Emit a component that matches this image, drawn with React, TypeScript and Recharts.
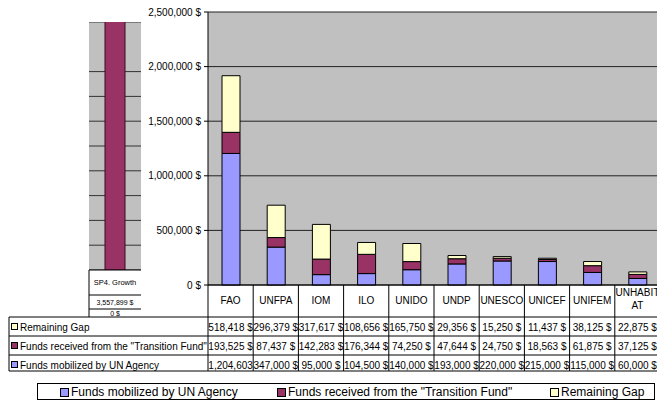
import { BarChart, Bar, XAxis, YAxis, CartesianGrid } from 'recharts';

const CATEGORIES = ['FAO', 'UNFPA', 'IOM', 'ILO', 'UNIDO', 'UNDP', 'UNESCO', 'UNICEF', 'UNIFEM', 'UNHABITAT'];
const UN_AGENCY = [1204603, 347000, 95000, 104500, 140000, 193000, 220000, 215000, 115000, 60000];
const TRANSITION_FUND = [193525, 87437, 142283, 176344, 74250, 47644, 24750, 18563, 61875, 37125];
const REMAINING_GAP = [518418, 296379, 317617, 108656, 165750, 29356, 15250, 11437, 38125, 22875];
const Y_TICKS = [0, 500000, 1000000, 1500000, 2000000, 2500000];

const SP4_NAME = 'SP4. Growth';
const SP4_VALUES = [3557899, 0];
const SP4_TICKS = [0, 300000, 600000, 900000, 1200000, 1500000, 1800000, 2100000, 2400000, 2700000, 3000000];

const SERIES = [
  { key: 'agency', name: 'Funds mobilized by UN Agency', color: '#9999FF', values: UN_AGENCY },
  { key: 'transition', name: 'Funds received from the "Transition Fund"', color: '#993366', values: TRANSITION_FUND },
  { key: 'gap', name: 'Remaining Gap', color: '#FFFFCC', values: REMAINING_GAP },
];

const data = CATEGORIES.map((name, i) => ({
  name,
  agency: UN_AGENCY[i],
  transition: TRANSITION_FUND[i],
  gap: REMAINING_GAP[i],
}));

const sp4Data = [{ name: SP4_NAME, value: SP4_VALUES[0] }];

// layout
const FONT = '"Liberation Sans", Arial, sans-serif';
const CHART_W = 680;
const CHART_H = 402;
const PLOT_LEFT = 208;
const PLOT_TOP = 12;
const PLOT_BOTTOM = 285;
const MARGIN_RIGHT = 20;
const BAND = (CHART_W - PLOT_LEFT - MARGIN_RIGHT) / CATEGORIES.length;
const ROW_LINES = [317, 336, 355, 371];
const TABLE_BOTTOM = 371;

const money = (n: number) => `${n.toLocaleString('en-US')} $`;
const cellText = (n: number) => (n >= 1000000 ? n.toLocaleString('en-US') : money(n));

// table rows are listed top-down: reverse of the stack
const TABLE_ROWS = [...SERIES].reverse();

function TableTick(props: any) {
  const { x, payload } = props;
  const i = payload.index;
  const half = BAND / 2;
  const name = CATEGORIES[i];
  const lines = name.length > 7 ? [name.slice(0, 7), name.slice(7)] : [name];
  return (
    <g>
      {i === 0 && <line x1={x - half} x2={x - half} y1={PLOT_BOTTOM} y2={TABLE_BOTTOM} stroke="#000" />}
      <line x1={x + half} x2={x + half} y1={PLOT_BOTTOM} y2={TABLE_BOTTOM} stroke="#000" />
      {ROW_LINES.map((y) => (
        <line key={y} x1={x - half} x2={x + half} y1={y} y2={y} stroke="#000" />
      ))}
      {lines.map((l, k) => (
        <text
          key={k}
          x={x}
          y={lines.length > 1 ? 296 + k * 13 : 304}
          textAnchor="middle"
          fontSize={10}
          fontFamily={FONT}
          fill="#000"
        >
          {l}
        </text>
      ))}
      {TABLE_ROWS.map((s, r) => (
        <text
          key={s.key}
          x={x}
          y={ROW_LINES[r] + 14}
          textAnchor="middle"
          fontSize={10}
          fontFamily={FONT}
          fill="#000"
        >
          {cellText(s.values[i])}
        </text>
      ))}
    </g>
  );
}

function Sp4Tick() {
  const x = 26;
  return (
    <g>
      <line x1={x - 26} x2={x - 26} y1={248} y2={295} stroke="#000" />
      <line x1={x - 26} x2={x + 26} y1={248} y2={248} stroke="#000" />
      <line x1={x - 26} x2={x + 26} y1={273} y2={273} stroke="#000" />
      <line x1={x - 26} x2={x + 26} y1={287} y2={287} stroke="#000" />
      <text x={x} y={263} textAnchor="middle" fontSize={7.5} fontFamily={FONT} fill="#000">
        {SP4_NAME}
      </text>
      <text x={x} y={283} textAnchor="middle" fontSize={7} fontFamily={FONT} fill="#000">
        {money(SP4_VALUES[0])}
      </text>
      <text x={x} y={294} textAnchor="middle" fontSize={7} fontFamily={FONT} fill="#000">
        {money(SP4_VALUES[1])}
      </text>
    </g>
  );
}

const LEGEND_X = [60, 277, 550];

export default function App() {
  return (
    <div
      style={{
        position: 'absolute',
        left: 0,
        top: 0,
        width: 657,
        height: 402,
        overflow: 'hidden',
        background: '#fff',
        fontFamily: FONT,
      }}
    >
      <div style={{ position: 'absolute', left: 0, top: 0 }}>
        <BarChart
          width={CHART_W}
          height={CHART_H}
          data={data}
          barSize={18}
          margin={{ top: PLOT_TOP, right: MARGIN_RIGHT, left: 0, bottom: CHART_H - TABLE_BOTTOM }}
        >
          <CartesianGrid vertical={false} stroke="#222" fill="#C0C0C0" fillOpacity={1} />
          <XAxis
            dataKey="name"
            height={TABLE_BOTTOM - PLOT_BOTTOM}
            interval={0}
            tickLine={false}
            axisLine={{ stroke: '#000' }}
            tick={<TableTick />}
          />
          <YAxis
            width={PLOT_LEFT}
            domain={[0, 2500000]}
            ticks={Y_TICKS}
            tickFormatter={money}
            tick={{ fontSize: 10, fill: '#000', fontFamily: FONT }}
            tickSize={4}
            tickMargin={3}
            tickLine={{ stroke: '#000' }}
            axisLine={{ stroke: '#000' }}
          />
          {SERIES.map((s) => (
            <Bar
              key={s.key}
              dataKey={s.key}
              name={s.name}
              stackId="a"
              fill={s.color}
              stroke="#000"
              strokeWidth={1}
              isAnimationActive={false}
            />
          ))}
        </BarChart>
      </div>

      <div style={{ position: 'absolute', left: 89, top: 22 }}>
        <BarChart
          width={52}
          height={248}
          data={sp4Data}
          barSize={20}
          margin={{ top: 0, right: 0, left: 0, bottom: 0 }}
        >
          <CartesianGrid vertical={false} stroke="#333" fill="#C0C0C0" fillOpacity={1} />
          <XAxis dataKey="name" hide />
          <YAxis hide width={0} domain={[0, 3000000]} ticks={SP4_TICKS} allowDataOverflow />
          <Bar dataKey="value" fill="#993366" stroke="#3a0a20" isAnimationActive={false} />
        </BarChart>
        <svg width={52} height={300} style={{ position: 'absolute', left: 0, top: 0, overflow: 'visible' }}>
          <Sp4Tick />
        </svg>
      </div>

      <svg
        width={657}
        height={402}
        style={{ position: 'absolute', left: 0, top: 0, pointerEvents: 'none' }}
      >
        <line x1={9} x2={9} y1={ROW_LINES[0]} y2={TABLE_BOTTOM} stroke="#000" />
        {ROW_LINES.map((y) => (
          <line key={y} x1={9} x2={PLOT_LEFT} y1={y} y2={y} stroke="#000" />
        ))}
        {TABLE_ROWS.map((s, r) => (
          <g key={s.key}>
            <rect
              x={11.5}
              y={ROW_LINES[r] + 6.5}
              width={6}
              height={6}
              fill={s.color}
              stroke="#000"
            />
            <text x={20} y={ROW_LINES[r] + 13.5} fontSize={10} fontFamily={FONT} fill="#000">
              {s.name}
            </text>
          </g>
        ))}
      </svg>

      <div
        style={{
          position: 'absolute',
          left: 37,
          top: 383,
          width: 618,
          height: 17,
          border: '1px solid #000',
          boxSizing: 'border-box',
        }}
      >
        {SERIES.map((s, i) => (
          <div
            key={s.key}
            style={{
              position: 'absolute',
              left: LEGEND_X[i] - 38,
              top: 1,
              display: 'flex',
              alignItems: 'center',
              fontSize: 12,
              lineHeight: '14px',
              whiteSpace: 'nowrap',
              color: '#000',
            }}
          >
            <span
              style={{
                display: 'inline-block',
                width: 7,
                height: 7,
                background: s.color,
                border: '1px solid #000',
                marginRight: 2,
              }}
            />
            {s.name}
          </div>
        ))}
      </div>
    </div>
  );
}
